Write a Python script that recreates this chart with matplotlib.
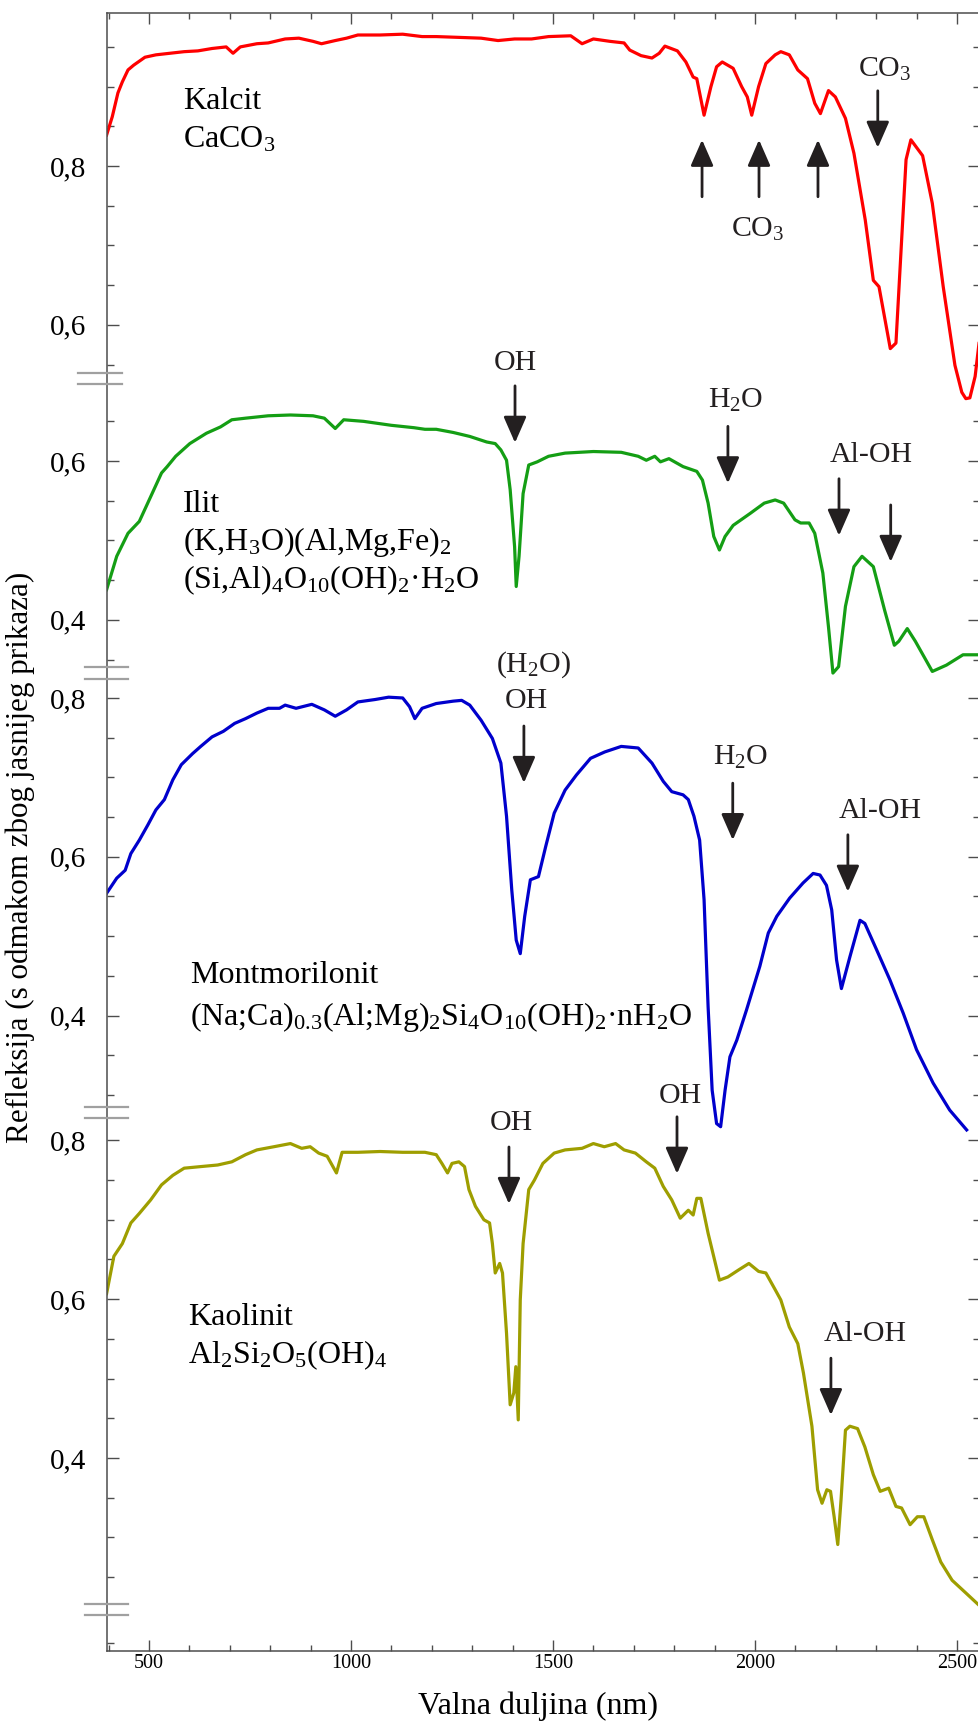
import matplotlib

matplotlib.use("Agg")
import matplotlib.pyplot as plt
from matplotlib.patches import ArrowStyle


plt.rcParams["font.family"] = ["Liberation Serif", "DejaVu Serif"]
plt.rcParams["mathtext.fontset"] = "custom"
plt.rcParams["mathtext.rm"] = "Liberation Serif"
plt.rcParams["mathtext.it"] = "Liberation Serif:italic"
plt.rcParams["mathtext.default"] = "regular"

# --- data (wavelength nm, reflectance) ---
kalcit_nm = [395, 409, 423, 434, 448, 462, 490, 517, 552, 587, 621, 656, 691, 708, 726,
             767, 795, 837, 871, 906, 927, 961, 989, 1017, 1072, 1128, 1176, 1211, 1267,
             1322, 1364, 1405, 1447, 1489, 1544, 1572, 1600, 1641, 1676, 1690, 1718, 1745,
             1763, 1777, 1808, 1829, 1847, 1856, 1874, 1891, 1905, 1919, 1946, 1967, 1981,
             1992, 2009, 2027, 2050, 2064, 2085, 2106, 2130, 2148, 2162, 2182, 2199, 2224,
             2245, 2273, 2293, 2307, 2335, 2349, 2374, 2386, 2415, 2439, 2466, 2495, 2512,
             2522, 2532, 2545, 2560]
kalcit_r = [0.839, 0.862, 0.892, 0.906, 0.921, 0.927, 0.937, 0.940, 0.942, 0.944, 0.945,
            0.948, 0.950, 0.942, 0.950, 0.954, 0.955, 0.960, 0.961, 0.957, 0.954, 0.958,
            0.961, 0.965, 0.965, 0.966, 0.963, 0.963, 0.962, 0.961, 0.958, 0.960, 0.960,
            0.963, 0.964, 0.954, 0.960, 0.957, 0.955, 0.946, 0.939, 0.936, 0.942, 0.951,
            0.945, 0.931, 0.912, 0.910, 0.864, 0.900, 0.925, 0.931, 0.923, 0.900, 0.887,
            0.864, 0.900, 0.929, 0.940, 0.944, 0.940, 0.921, 0.910, 0.879, 0.866, 0.895,
            0.887, 0.860, 0.816, 0.732, 0.656, 0.648, 0.570, 0.577, 0.808, 0.833, 0.813,
            0.753, 0.648, 0.549, 0.515, 0.507, 0.508, 0.535, 0.600]

ilit_nm = [395, 420, 448, 476, 504, 531, 545, 566, 601, 642, 677, 705, 739, 795, 850, 906,
           934, 961, 982, 1031, 1100, 1156, 1183, 1211, 1253, 1294, 1336, 1357, 1371, 1385,
           1394, 1405, 1409, 1416, 1426, 1440, 1461, 1489, 1530, 1600, 1669, 1711, 1731,
           1752, 1766, 1787, 1822, 1856, 1870, 1884, 1898, 1912, 1926, 1946, 1988, 2023,
           2050, 2071, 2099, 2113, 2134, 2148, 2168, 2182, 2193, 2207, 2224, 2245, 2265,
           2293, 2321, 2345, 2356, 2377, 2397, 2439, 2474, 2515, 2560]
ilit_r = [0.438, 0.480, 0.509, 0.524, 0.555, 0.585, 0.593, 0.606, 0.622, 0.635, 0.643,
          0.652, 0.654, 0.657, 0.658, 0.657, 0.654, 0.641, 0.652, 0.650, 0.645, 0.642,
          0.640, 0.640, 0.636, 0.631, 0.624, 0.622, 0.614, 0.601, 0.564, 0.492, 0.442,
          0.480, 0.559, 0.595, 0.599, 0.606, 0.610, 0.612, 0.611, 0.606, 0.601, 0.606,
          0.599, 0.603, 0.593, 0.587, 0.576, 0.547, 0.505, 0.488, 0.505, 0.519, 0.534,
          0.547, 0.551, 0.547, 0.526, 0.522, 0.522, 0.509, 0.459, 0.391, 0.333, 0.341,
          0.417, 0.467, 0.480, 0.467, 0.412, 0.368, 0.373, 0.389, 0.373, 0.335, 0.343,
          0.356, 0.356]

montm_nm = [395, 420, 441, 455, 476, 497, 517, 538, 559, 580, 608, 628, 656, 684, 712, 739,
            767, 795, 823, 837, 864, 903, 934, 961, 989, 1017, 1059, 1093, 1128, 1145, 1158,
            1176, 1211, 1253, 1274, 1294, 1322, 1350, 1371, 1385, 1398, 1409, 1419, 1430,
            1444, 1464, 1482, 1503, 1530, 1558, 1593, 1628, 1669, 1711, 1745, 1773, 1794,
            1822, 1835, 1849, 1863, 1874, 1884, 1894, 1905, 1915, 1926, 1938, 1955, 1979,
            2012, 2033, 2054, 2086, 2119, 2144, 2161, 2177, 2190, 2202, 2214, 2235, 2260,
            2272, 2301, 2334, 2367, 2400, 2441, 2482, 2524]
montm_r = [0.554, 0.573, 0.583, 0.604, 0.621, 0.640, 0.659, 0.672, 0.697, 0.716, 0.730,
           0.739, 0.751, 0.758, 0.768, 0.774, 0.781, 0.787, 0.787, 0.791, 0.787, 0.792,
           0.785, 0.777, 0.785, 0.795, 0.798, 0.801, 0.800, 0.789, 0.774, 0.787, 0.793,
           0.796, 0.797, 0.791, 0.772, 0.749, 0.718, 0.651, 0.558, 0.495, 0.478, 0.525,
           0.571, 0.575, 0.613, 0.655, 0.684, 0.703, 0.724, 0.732, 0.739, 0.737, 0.718,
           0.695, 0.682, 0.678, 0.672, 0.651, 0.621, 0.546, 0.411, 0.306, 0.264, 0.260,
           0.306, 0.348, 0.369, 0.407, 0.462, 0.504, 0.525, 0.548, 0.567, 0.579, 0.577,
           0.564, 0.533, 0.470, 0.434, 0.474, 0.520, 0.516, 0.483, 0.445, 0.403, 0.357,
           0.315, 0.281, 0.256]

kaol_nm = [395, 413, 434, 455, 476, 504, 531, 559, 587, 628, 670, 705, 739, 767, 809, 850,
           878, 899, 920, 941, 964, 978, 1017, 1072, 1128, 1183, 1211, 1225, 1239, 1250,
           1267, 1281, 1292, 1308, 1329, 1343, 1350, 1357, 1368, 1375, 1385, 1394, 1403,
           1408, 1414, 1419, 1426, 1440, 1454, 1475, 1503, 1530, 1572, 1600, 1627, 1655,
           1676, 1704, 1731, 1752, 1773, 1794, 1815, 1835, 1847, 1856, 1866, 1884, 1912,
           1933, 1960, 1985, 2009, 2027, 2050, 2064, 2085, 2106, 2120, 2141, 2155, 2166,
           2178, 2187, 2196, 2205, 2213, 2224, 2235, 2254, 2272, 2293, 2310, 2331, 2349,
           2363, 2384, 2402, 2418, 2439, 2460, 2488, 2522, 2560]
kaol_r = [0.607, 0.654, 0.670, 0.696, 0.708, 0.725, 0.744, 0.756, 0.765, 0.767, 0.769,
          0.773, 0.782, 0.788, 0.792, 0.796, 0.790, 0.792, 0.784, 0.780, 0.759, 0.785,
          0.785, 0.786, 0.785, 0.785, 0.782, 0.771, 0.759, 0.771, 0.773, 0.767, 0.738,
          0.717, 0.700, 0.696, 0.670, 0.633, 0.645, 0.633, 0.557, 0.467, 0.482, 0.515,
          0.448, 0.599, 0.670, 0.738, 0.750, 0.771, 0.784, 0.788, 0.790, 0.796, 0.792,
          0.796, 0.788, 0.784, 0.773, 0.765, 0.742, 0.725, 0.702, 0.712, 0.706, 0.727,
          0.727, 0.683, 0.624, 0.628, 0.637, 0.645, 0.635, 0.633, 0.612, 0.599, 0.565,
          0.544, 0.507, 0.440, 0.360, 0.343, 0.360, 0.358, 0.326, 0.291, 0.347, 0.435,
          0.440, 0.437, 0.414, 0.379, 0.358, 0.362, 0.339, 0.337, 0.316, 0.326, 0.326,
          0.297, 0.269, 0.246, 0.230, 0.212]

# vertical shift applied to each spectrum (top to bottom)
offsets = [1.0703, 0.8987, 0.4003, -0.1569]
colors = ["#ff0000", "#149e14", "#0000cc", "#9e9e00"]

major_ticks = [[0.6, 0.8], [0.4, 0.6], [0.4, 0.6, 0.8], [0.4, 0.6, 0.8]]
minor_ticks = [[0.55, 0.65, 0.7, 0.75, 0.85, 0.9, 0.95],
               [0.35, 0.45, 0.5, 0.55, 0.65],
               [0.3, 0.35, 0.45, 0.5, 0.55, 0.65, 0.7, 0.75],
               [0.167, 0.25, 0.3, 0.35, 0.45, 0.5, 0.55, 0.65, 0.7, 0.75]]
breaks = [(1.6096, 1.5957, -0.033, 0.017), (1.2393, 1.2242, -0.025, 0.024),
          (0.6851, 0.6713, -0.025, 0.024), (0.0592, 0.0453, -0.025, 0.024)]

names = [["Kalcit", "CaCO$_3$"],
         ["Ilit", "(K,H$_3$O)(Al,Mg,Fe)$_2$", "(Si,Al)$_4$O$_{10}$(OH)$_2$·H$_2$O"],
         ["Montmorilonit", "(Na;Ca)$_{0.3}$(Al;Mg)$_2$Si$_4$O$_{10}$(OH)$_2$·nH$_2$O"],
         ["Kaolinit", "Al$_2$Si$_2$O$_5$(OH)$_4$"]]
name_pos = [(584, [0.8718, 0.8239]), (584, [0.5358, 0.4879, 0.4401]),
            (601, [0.441, 0.388]), (597, [0.5675, 0.5196])]

# arrows: (panel, nm, tip reflectance, direction) ; +1 = pointing down
arrows = [(0, 1869, 0.833, -1), (0, 2010, 0.833, -1), (0, 2156, 0.833, -1), (0, 2304, 0.823, 1),
          (1, 1406, 0.623, 1), (1, 1933, 0.572, 1), (1, 2208, 0.506, 1), (1, 2336, 0.473, 1),
          (2, 1428, 0.693, 1), (2, 1945, 0.621, 1), (2, 2230, 0.556, 1),
          (3, 1391, 0.720, 1), (3, 1807, 0.758, 1), (3, 2188, 0.454, 1)]
labels = [(0, 2007, 0.711, "CO$_3$"), (0, 2322, 0.912, "CO$_3$"),
          (1, 1406, 0.715, "OH"), (1, 1953, 0.667, "H$_2$O"), (1, 2287, 0.599, "Al-OH"),
          (2, 1453, 0.833, "(H$_2$O)"), (2, 1433, 0.787, "OH"), (2, 1965, 0.716, "H$_2$O"),
          (2, 2309, 0.649, "Al-OH"),
          (3, 1398, 0.813, "OH"), (3, 1814, 0.847, "OH"), (3, 2272, 0.547, "Al-OH")]

AXIS_COLOR = "#4d4d4d"
ARROW_COLOR = "#231f20"


def main():
    fig = plt.figure(figsize=(9.79, 17.22), dpi=100)
    ax = fig.add_axes([0.1093, 0.04123, 0.8917, 0.95122])

    spectra = [(kalcit_nm, kalcit_r), (ilit_nm, ilit_r), (montm_nm, montm_r), (kaol_nm, kaol_r)]
    for (nm, r), off, color in zip(spectra, offsets, colors):
        ax.plot(nm, [v + off for v in r], color=color, lw=2.3, solid_joinstyle="round")

    ax.set_xlim(396, 2557)
    ax.set_ylim(0, 2.063)

    ypos, ylab, yminor = [], [], []
    for off, majors, minors in zip(offsets, major_ticks, minor_ticks):
        for v in majors:
            ypos.append(v + off)
            ylab.append(f"{v:.1f}".replace(".", ","))
        yminor += [v + off for v in minors]
    ax.set_yticks(ypos, ylab)
    ax.set_yticks(yminor, minor=True)

    ax.set_xticks([500, 1000, 1500, 2000, 2500])
    ax.set_xticks(range(400, 2600, 100), minor=True)

    for side in ax.spines.values():
        side.set_color(AXIS_COLOR)
        side.set_linewidth(1.1)
    ax.tick_params(which="both", direction="in", top=True, right=True, color=AXIS_COLOR, width=1.0)
    ax.tick_params(axis="y", which="major", length=8.5, labelsize=21, pad=15)
    ax.tick_params(axis="y", which="minor", length=5)
    ax.tick_params(axis="x", which="major", length=8, labelsize=14.5, pad=2)
    ax.tick_params(axis="x", which="minor", length=4)

    trans = ax.get_yaxis_transform()
    for y1, y2, x0, x1 in breaks:
        for y in (y1, y2):
            ax.plot([x0, x1], [y, y], transform=trans, color="#a0a0a0", lw=1.6,
                    clip_on=False, zorder=5)

    for lines, (x, ys), off in zip(names, name_pos, offsets):
        for text, y in zip(lines, ys):
            ax.text(x, y + off, text, fontsize=23, ha="left", va="baseline")

    style = ArrowStyle("-|>", head_length=16, head_width=7)
    for panel, nm, val, direction in arrows:
        ax.annotate("", xy=(nm, val + offsets[panel]), xytext=(0, 41 * direction),
                    textcoords="offset points",
                    arrowprops=dict(arrowstyle=style, color=ARROW_COLOR, lw=2.0,
                                    shrinkA=0, shrinkB=0, mutation_scale=1))
    for panel, nm, val, text in labels:
        ax.text(nm, val + offsets[panel], text, fontsize=21.5, ha="center", va="baseline",
                color=ARROW_COLOR)

    fig.text(20 / 979, 1 - 857 / 1722, "Refleksija (s odmakom zbog jasnijeg prikaza)",
             rotation=90, ha="center", va="center", fontsize=22.4)
    fig.text(538 / 979, 8 / 1722, "Valna duljina (nm)", ha="center", va="baseline", fontsize=23)

    fig.savefig("out.png", dpi=100)
    plt.close(fig)


if __name__ == "__main__":
    main()
